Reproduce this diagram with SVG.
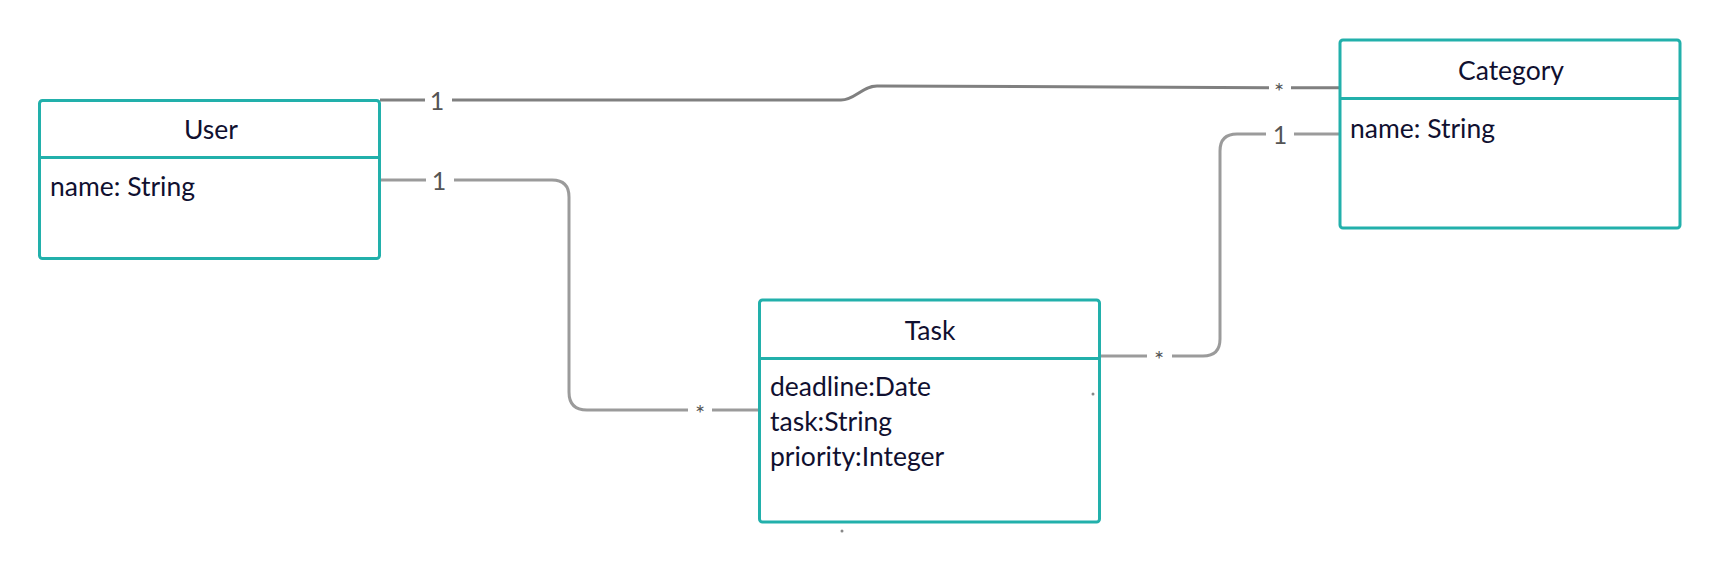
<svg xmlns="http://www.w3.org/2000/svg" width="1720" height="572" viewBox="0 0 1720 572">
<style>
.box{fill:#fff;stroke:#22b0ab;stroke-width:3}
.div{stroke:#22b0ab;stroke-width:3}
.t{font-family:Lato,"Liberation Sans",sans-serif;font-size:26.5px;fill:#101030}
.c{text-anchor:middle}
.e1{fill:none;stroke:#808080;stroke-width:3}
.e2{fill:none;stroke:#9b9b9b;stroke-width:3}
.lbl{font-family:Lato,"Liberation Sans",sans-serif;font-size:25px;fill:#555;text-anchor:middle}
.st{font-family:Lato,"Liberation Sans",sans-serif;font-size:24px;fill:#555;text-anchor:middle}
</style>
<rect width="1720" height="572" fill="#fff"/>
<g id="connectors">
<path class="e1" d="M380,100 H425 M452,100 H841 C855,100 862,86 877,86 L1269,87.7 M1291,87.8 H1340"/>
<path class="e2" d="M380,180 H426 M454,180 H552 Q569,180 569,197 V392 Q569,410 587,410 H688 M712,410 H759"/>
<path class="e2" d="M1100,356 H1147 M1172,356 H1203 Q1220,356 1220,339 V151 Q1220,134 1237,134 H1266 M1294,134 H1340"/>
<text class="lbl" x="437" y="110">1</text>
<text class="st" x="1279" y="99.5">*</text>
<text class="lbl" x="439" y="190">1</text>
<text class="st" x="700" y="421.5">*</text>
<text class="st" x="1159" y="367.5">*</text>
<text class="lbl" x="1280" y="144">1</text>
</g>
<g id="user">
<rect class="box" x="39.5" y="100.5" width="340" height="158" rx="3"/>
<line class="div" x1="39.5" y1="157.5" x2="379.5" y2="157.5"/>
<text class="t c" x="211" y="139">User</text>
<text class="t" x="50" y="196">name: String</text>
</g>
<g id="category">
<rect class="box" x="1340" y="40" width="340" height="188" rx="3"/>
<line class="div" x1="1340" y1="98.5" x2="1680" y2="98.5"/>
<text class="t c" x="1511" y="80">Category</text>
<text class="t" x="1350" y="138">name: String</text>
</g>
<g id="task">
<rect class="box" x="759.5" y="300" width="340" height="222" rx="3"/>
<line class="div" x1="759.5" y1="358.5" x2="1099.5" y2="358.5"/>
<text class="t c" x="930" y="340">Task</text>
<text class="t" x="770" y="396">deadline:Date</text>
<text class="t" x="770" y="431">task:String</text>
<text class="t" x="770" y="466">priority:Integer</text>
<circle cx="1093" cy="394" r="1.5" fill="#888"/>
<circle cx="842" cy="531" r="1.5" fill="#888"/>
</g>
</svg>
